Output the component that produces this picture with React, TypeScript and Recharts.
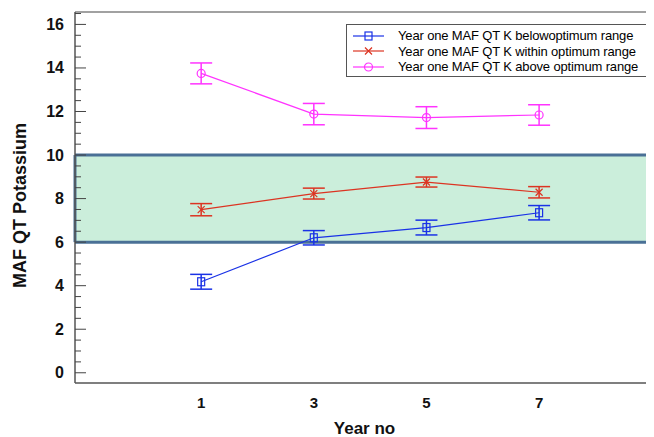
import React from "react";
import {
  LineChart,
  Line,
  XAxis,
  YAxis,
  ErrorBar,
  ReferenceArea,
  ReferenceLine,
  Label,
} from "recharts";

const years = [1, 3, 5, 7];
const below = [4.18, 6.2, 6.67, 7.35];
const belowErr = [0.34, 0.33, 0.34, 0.33];
const within = [7.49, 8.23, 8.76, 8.29];
const withinErr = [0.28, 0.25, 0.23, 0.26];
const above = [13.75, 11.88, 11.72, 11.84];
const aboveErr = [0.48, 0.49, 0.5, 0.47];

const yTicks = [
  0, 0.5, 1, 1.5, 2, 2.5, 3, 3.5, 4, 4.5, 5, 5.5, 6, 6.5, 7, 7.5, 8, 8.5, 9,
  9.5, 10, 10.5, 11, 11.5, 12, 12.5, 13, 13.5, 14, 14.5, 15, 15.5, 16, 16.5,
];
const xTicks = [1, 3, 5, 7];

const seriesNames = [
  "Year one MAF QT K belowoptimum range",
  "Year one MAF QT K within optimum range",
  "Year one MAF QT K above optimum range",
];

const data = years.map((yr, i) => ({
  year: yr,
  below: below[i],
  belowErr: belowErr[i],
  within: within[i],
  withinErr: withinErr[i],
  above: above[i],
  aboveErr: aboveErr[i],
}));

const FONT = "'Liberation Sans', Arial, sans-serif";
const BLUE = "#1a32e6";
const RED = "#dc3422";
const MAGENTA = "#ff33ff";
const X_MIN = -1.24;
const X_MAX = 9.04;
const Y_MIN = -0.47;
const Y_MAX = 16.57;

const SquareDot = (p: any) => (
  <rect
    key={`s${p.index}`}
    x={p.cx - 3.5}
    y={p.cy - 4}
    width={7}
    height={8}
    fill="none"
    stroke={BLUE}
    strokeWidth={1.2}
  />
);

const CrossDot = (p: any) => (
  <path
    key={`c${p.index}`}
    d={`M${p.cx - 3.5},${p.cy - 3.5}L${p.cx + 3.5},${p.cy + 3.5}M${p.cx - 3.5},${p.cy + 3.5}L${p.cx + 3.5},${p.cy - 3.5}`}
    stroke={RED}
    strokeWidth={1.2}
  />
);

const CircleDot = (p: any) => (
  <circle
    key={`o${p.index}`}
    cx={p.cx}
    cy={p.cy}
    r={4}
    fill="none"
    stroke={MAGENTA}
    strokeWidth={1.2}
  />
);

const YTick = ({ x, y, payload }: any) => {
  const v = payload.value;
  const major = v % 2 === 0;
  const ax = x + 11;
  return (
    <g>
      <line x1={ax} x2={ax + (major ? 11 : 6)} y1={y} y2={y} stroke="#444" />
      {major && (
        <text
          x={x}
          y={y}
          textAnchor="end"
          dominantBaseline="central"
          fontFamily={FONT}
          fontWeight="bold"
          fontSize={16}
          fill="#111"
        >
          {v}
        </text>
      )}
    </g>
  );
};

const YTitle = ({ viewBox }: any) => {
  const cx = 12;
  const cy = viewBox.y + viewBox.height / 2 + 8;
  return (
    <text
      x={cx}
      y={cy}
      transform={`rotate(-90, ${cx}, ${cy})`}
      textAnchor="middle"
      dominantBaseline="central"
      fontFamily={FONT}
      fontWeight="bold"
      fontSize={18}
      fill="#111"
    >
      MAF QT Potassium
    </text>
  );
};

const legendMarks = [
  { color: BLUE, Mark: SquareDot },
  { color: RED, Mark: CrossDot },
  { color: MAGENTA, Mark: CircleDot },
];

const LegendBox = () => (
  <div
    style={{
      position: "absolute",
      left: 338,
      top: 16,
      width: 302,
      height: 53,
      border: "1.5px solid #555",
      background: "#fff",
      boxSizing: "border-box",
      padding: "3px 0 0 5px",
    }}
  >
    {seriesNames.map((name, i) => {
      const { color, Mark } = legendMarks[i];
      return (
        <div
          key={name}
          style={{ display: "flex", alignItems: "center", height: 15.5 }}
        >
          <svg width={34} height={12} style={{ flex: "none" }}>
            <line x1={1} x2={32} y1={6} y2={6} stroke={color} strokeWidth={1.2} />
            <Mark cx={16.5} cy={6} index={i} />
          </svg>
          <span
            style={{
              marginLeft: 12,
              fontFamily: FONT,
              fontSize: 13,
              letterSpacing: -0.15,
              lineHeight: "15px",
              color: "#000",
              whiteSpace: "nowrap",
            }}
          >
            {name}
          </span>
        </div>
      );
    })}
  </div>
);

export default function App() {
  return (
    <div style={{ position: "relative", width: 646, height: 429 }}>
      <LineChart
        width={646}
        height={429}
        data={data}
        margin={{ top: 4, right: 0, bottom: 0, left: 0 }}
      >
        <ReferenceArea
          x1={X_MIN}
          x2={X_MAX}
          y1={6}
          y2={10}
          fill="#cbeedb"
          fillOpacity={1}
          stroke="none"
          ifOverflow="visible"
        />
        <ReferenceLine y={6} stroke="#4a7096" strokeWidth={3} ifOverflow="visible" />
        <ReferenceLine y={10} stroke="#4a7096" strokeWidth={3} ifOverflow="visible" />
        <ReferenceLine
          segment={[
            { x: X_MIN, y: 6 },
            { x: X_MIN, y: 10 },
          ]}
          stroke="#4a7096"
          strokeWidth={3}
          ifOverflow="visible"
        />
        <ReferenceLine y={Y_MAX} stroke="#444" strokeWidth={1.2} ifOverflow="visible" />
        <XAxis
          dataKey="year"
          type="number"
          domain={[X_MIN, X_MAX]}
          ticks={xTicks}
          allowDataOverflow
          tickLine={false}
          axisLine={{ stroke: "#555", strokeWidth: 1.5 }}
          height={54}
          tickMargin={8}
          tick={{ fontFamily: FONT, fontWeight: "bold", fontSize: 15, fill: "#111" }}
        >
          <Label
            value="Year no"
            position="insideBottom"
            offset={3}
            style={{ fontFamily: FONT, fontWeight: "bold", fontSize: 17, fill: "#111" }}
          />
        </XAxis>
        <YAxis
          type="number"
          domain={[Y_MIN, Y_MAX]}
          ticks={yTicks}
          allowDataOverflow
          interval={0}
          width={67}
          tickLine={false}
          tickSize={0}
          tickMargin={11}
          tick={<YTick />}
          axisLine={{ stroke: "#555", strokeWidth: 1.5 }}
        >
          <Label content={<YTitle />} />
        </YAxis>
        <Line
          dataKey="below"
          name={seriesNames[0]}
          stroke={BLUE}
          strokeWidth={1.2}
          dot={<SquareDot />}
          activeDot={false}
          isAnimationActive={false}
        >
          <ErrorBar dataKey="belowErr" direction="y" width={11} stroke={BLUE} strokeWidth={1.5} />
        </Line>
        <Line
          dataKey="within"
          name={seriesNames[1]}
          stroke={RED}
          strokeWidth={1.2}
          dot={<CrossDot />}
          activeDot={false}
          isAnimationActive={false}
        >
          <ErrorBar dataKey="withinErr" direction="y" width={11} stroke={RED} strokeWidth={1.5} />
        </Line>
        <Line
          dataKey="above"
          name={seriesNames[2]}
          stroke={MAGENTA}
          strokeWidth={1.2}
          dot={<CircleDot />}
          activeDot={false}
          isAnimationActive={false}
        >
          <ErrorBar dataKey="aboveErr" direction="y" width={11} stroke={MAGENTA} strokeWidth={1.5} />
        </Line>
      </LineChart>
      <LegendBox />
    </div>
  );
}
